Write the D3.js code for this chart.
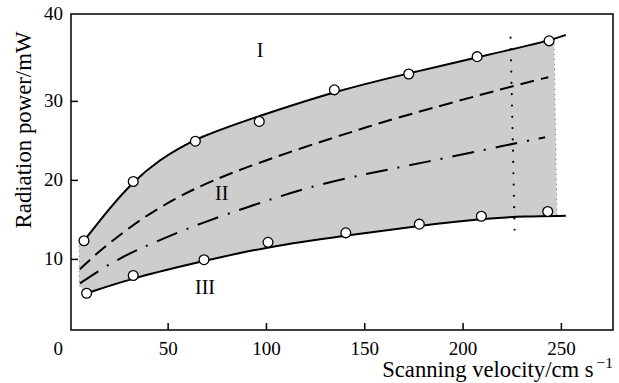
<!DOCTYPE html>
<html><head><meta charset="utf-8">
<script src="https://cdn.jsdelivr.net/npm/d3@7"></script>
<style>html,body{margin:0;padding:0;background:#fff}svg{display:block}</style>
</head><body><svg id="c" width="619" height="383"></svg>
<script>
// ---- data ----
const xTicks = [50, 100, 150, 200, 250];
const xZeroLabel = "0";
const yTicks = [10, 20, 30];
const yTopLabel = "40";
const xDomain = [0.85, 276.5];
const yDomain = [1, 41];

// measured points (open circles)
const upperPts = [[7.46,12.3],[32.5,19.8],[64.1,24.9],[96.6,27.4],[134.8,31.4],[172.6,33.4],[207.4,35.6],[244.0,37.6]];
const lowerPts = [[8.8,5.65],[32.5,7.9],[68.5,9.9],[101.05,12.1],[140.6,13.3],[178.0,14.4],[209.55,15.4],[243.3,16.0]];
// fitted curves
const upperFit = [[7.5,12.3],[20,16.3],[32.5,19.8],[45,22.4],[64,25.3],[96.6,28.1],[134.8,31.2],[172.6,33.5],[207.4,35.5],[244,37.6],[252.5,38.35]];
const lowerFit = [[8.8,5.65],[32.5,7.6],[68.5,9.75],[101,11.55],[140.6,12.95],[178,14.2],[209.5,15.1],[232,15.4],[252.5,15.45]];
const dashedII = [[5.4,8.7],[13.9,10.7],[22.4,12.4],[32.5,14.3],[41.9,15.9],[54.6,17.7],[63,18.8],[75,20.1],[86.8,21.3],[117.3,24.0],[147.8,26.4],[168.2,28.0],[225.8,31.9],[243.6,33.0]];
const dashDotII = [[5.4,6.9],[15.6,8.6],[25.8,10.1],[36,11.3],[46.1,12.4],[66.5,14.5],[93.6,16.8],[120,19.0],[151.3,20.8],[178.4,22.1],[224.2,24.5],[242,25.4]];
const dottedLimit = [[224.4,38.0],[226.5,13.4]];
// shaded region edges
const shadeRight = [[246.5,37.8],[248,15.45]];
const shadeLeft = [[5.0,6.6],[5.0,11.8]];
const regionLabels = [{t:"I",x:97,y:36.5},{t:"II",x:77.5,y:18.4},{t:"III",x:69,y:6.4}];
const xTitle = "Scanning velocity/cm s";
const xTitleSup = "\u22121";
const yTitle = "Radiation power/mW";

const FONT = '"Liberation Serif", Tinos, "Times New Roman", Times, "DejaVu Serif", serif';

// ---- layout ----
const L = 71, R = 613, T = 14, B = 330;
const x = d3.scaleLinear().domain(xDomain).range([L, R]);
const y = d3.scaleLinear().domain(yDomain).range([B, T]);
const svg = d3.select("#c");

// shaded area
const upInRange = upperFit.filter(d => d[0] < shadeRight[0][0]);
const lowInRange = lowerFit.filter(d => d[0] < shadeRight[1][0]).reverse();
const poly = [...upInRange, ...shadeRight, ...lowInRange, ...shadeLeft];
const lineGen = d3.line().x(d => x(d[0])).y(d => y(d[1]));
svg.append("path").attr("d", d3.line().x(d => x(d[0])).y(d => y(d[1])).curve(d3.curveLinearClosed)(poly))
  .attr("fill", "#cdcdcd").attr("stroke", "#555").attr("stroke-width", 0.8)
  .attr("stroke-dasharray", "1 4");

const smooth = d3.line().x(d => x(d[0])).y(d => y(d[1])).curve(d3.curveBasis);

// curves
svg.append("path").attr("d", smooth(dashedII)).attr("fill", "none").attr("stroke", "#000")
  .attr("stroke-width", 2).attr("stroke-dasharray", "14 7");
svg.append("path").attr("d", smooth(dashDotII)).attr("fill", "none").attr("stroke", "#000")
  .attr("stroke-width", 2).attr("stroke-dasharray", "22 10 2 10");
svg.append("path").attr("d", smooth(upperFit)).attr("fill", "none").attr("stroke", "#000").attr("stroke-width", 2);
svg.append("path").attr("d", smooth(lowerFit)).attr("fill", "none").attr("stroke", "#000").attr("stroke-width", 2);

// dotted vertical limit
svg.append("path").attr("d", lineGen(dottedLimit))
  .attr("fill", "none").attr("stroke", "#000").attr("stroke-width", 2.2)
  .attr("stroke-linecap", "round").attr("stroke-dasharray", "0 11.3");

// circles
[upperPts, lowerPts].forEach(pts => {
  svg.append("g").selectAll("circle").data(pts).join("circle")
    .attr("cx", d => x(d[0])).attr("cy", d => y(d[1])).attr("r", 4.9)
    .attr("fill", "#fff").attr("stroke", "#000").attr("stroke-width", 1.3);
});

// frame
svg.append("rect").attr("x", L).attr("y", T).attr("width", R - L).attr("height", B - T)
  .attr("fill", "none").attr("stroke", "#000").attr("stroke-width", 1.5);

// x axis (inward ticks)
const xa = svg.append("g").attr("transform", `translate(0,${B})`)
  .call(d3.axisBottom(x).tickValues(xTicks).tickSizeInner(-7).tickSizeOuter(0).tickPadding(11.5).tickFormat(d3.format("d")));
xa.select(".domain").remove();
xa.selectAll("line").attr("stroke-width", 1.5);
xa.selectAll("text").style("font-family", FONT).style("font-size", "19px");
svg.append("text").attr("x", x(0) - 11).attr("y", 355).attr("text-anchor", "middle")
  .style("font-family", FONT).style("font-size", "19px").text(xZeroLabel);

// y axis (inward ticks)
const ya = svg.append("g").attr("transform", `translate(${L},0)`)
  .call(d3.axisLeft(y).tickValues(yTicks).tickSizeInner(-7).tickSizeOuter(0).tickPadding(8).tickFormat(d3.format("d")));
ya.select(".domain").remove();
ya.selectAll("line").attr("stroke-width", 1.5);
ya.selectAll("text").style("font-family", FONT).style("font-size", "19px");
svg.append("text").attr("x", L - 8).attr("y", y(yDomain[1])).attr("dy", "0.32em").attr("text-anchor", "end")
  .style("font-family", FONT).style("font-size", "19px").text(yTopLabel);

// region labels
svg.append("g").selectAll("text").data(regionLabels).join("text")
  .attr("x", d => x(d.x)).attr("y", d => y(d.y)).attr("dy", "0.35em").attr("text-anchor", "middle")
  .style("font-family", FONT).style("font-size", "20px").text(d => d.t);

// titles (font size fitted to the width seen in the reference)
function fitFont(sel, target, base) {
  const w = sel.node().getComputedTextLength();
  return w > 0 ? base * target / w : base;
}
const xt = svg.append("text").attr("x", R).attr("y", 377).attr("text-anchor", "end")
  .style("font-family", FONT).style("font-size", "22px");
xt.append("tspan").text(xTitle);
const sup = xt.append("tspan").attr("dx", 3).attr("dy", -8).style("font-size", "15px").text(xTitleSup);
{
  const f = fitFont(xt, 228, 22);
  xt.style("font-size", f + "px");
  sup.style("font-size", (f * 0.68) + "px").attr("dy", -f * 0.38);
}
const yt = svg.append("text").attr("transform", `translate(31,130) rotate(-90)`).attr("text-anchor", "middle")
  .style("font-family", FONT).style("font-size", "22px").text(yTitle);
yt.style("font-size", fitFont(yt, 197, 22) + "px");
</script></body></html>
